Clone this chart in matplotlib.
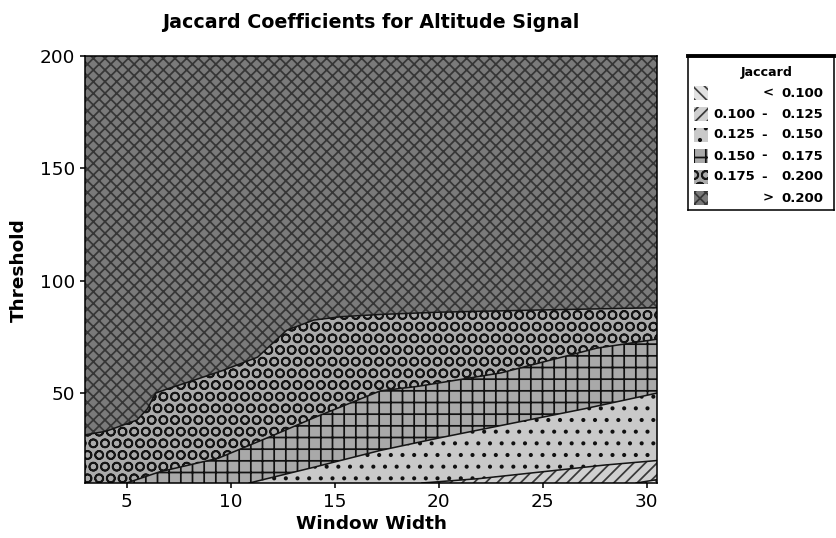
import numpy as np
import matplotlib
matplotlib.use("Agg")
import matplotlib.pyplot as plt
from matplotlib.patches import Rectangle

# threshold at which the Jaccard coefficient crosses each level, per window width
x_200 = [3, 4, 5.5, 6.0, 6.4, 7, 8, 9.6, 11.3, 12, 12.7, 14, 15.3, 17.2, 20, 25, 30.5]
y_200 = [31.4, 33, 38, 43, 50, 52, 55, 60, 66, 72, 78, 82.5, 84, 85, 86, 87, 88]
x_175 = [5, 6.6, 8, 9.4, 12, 14, 17.2, 19, 23, 27.6, 30.5]
y_175 = [10, 15, 18, 21, 31, 39, 51, 53, 59, 70, 74]
x_150 = [10.9, 14, 17.2, 20, 23.6, 27, 30.5]
y_150 = [10, 17, 24.5, 30, 36.7, 43, 50]
x_125 = [19.2, 22, 25, 28, 30.5]
y_125 = [10, 12, 15, 18, 20]
x_100 = [29.5, 30.5]
y_100 = [10, 11.5]

levels = [0.100, 0.125, 0.150, 0.175, 0.200]
x_ticks = [5, 10, 15, 20, 25, 30]
y_ticks = [50, 100, 150, 200]

# band styles, lowest band first: face, hatch colour, hatch
styles = [
    ("#e2e2e2", "#404040", "\\\\\\\\"),
    ("#d0d0d0", "#383838", "////"),
    ("#c9c9c9", "#111111", ".."),
    ("#a9a9a9", "#111111", "++"),
    ("#ababab", "#151515", "OO"),
    ("#7a7a7a", "#363636", "xxxx"),
]

DPI = 140
plt.rcParams["font.family"] = ["DejaVu Sans"]
plt.rcParams["hatch.linewidth"] = 0.9

fig = plt.figure(figsize=(836 / DPI, 538 / DPI), dpi=DPI)
ax = fig.add_axes([85 / 836, 1 - 483 / 538, 572 / 836, 427 / 538])
ymin, ymax = 10, 200


def band(x, lo, hi, style):
    face, hcol, hatch = style
    with plt.rc_context({"hatch.color": hcol}):
        ax.fill_between(x, lo, hi, facecolor=face, edgecolor=hcol,
                        hatch=hatch, linewidth=0)


band(x_200, y_200, ymax, styles[5])
band(x_200, ymin, y_200, styles[4])
band(x_175, ymin, y_175, styles[3])
band(x_150, ymin, y_150, styles[2])
band(x_125, ymin, y_125, styles[1])
band(x_100, ymin, y_100, styles[0])

for bx, by in [(x_200, y_200), (x_175, y_175), (x_150, y_150), (x_125, y_125), (x_100, y_100)]:
    ax.plot(bx, by, color="#151515", lw=0.8)

ax.set_xlim(3, 30.5)
ax.set_ylim(ymin, ymax)
ax.set_xticks(x_ticks)
ax.set_yticks(y_ticks)
ax.tick_params(labelsize=9.5, length=2.6, width=0.8, pad=2.5)
for s in ax.spines.values():
    s.set_linewidth(0.8)

ax.set_xlabel("Window Width", fontsize=9.5, fontweight="bold", labelpad=2)
fig.text(19 / 836, 1 - 270 / 538, "Threshold", rotation=90, ha="center", va="center",
         fontsize=9.5, fontweight="bold")
fig.text(371 / 836, 1 - 22 / 538, "Jaccard Coefficients for Altitude Signal",
         ha="center", va="center", fontsize=9.8, fontweight="bold")

# legend box, drawn in pixel units
lg = fig.add_axes([688 / 836, 1 - 210 / 538, 146 / 836, 154 / 538])
lg.set_xlim(0, 146)
lg.set_ylim(154, 0)
lg.set_xticks([])
lg.set_yticks([])
for s in lg.spines.values():
    s.set_linewidth(0.8)
lg.spines["top"].set_linewidth(2)
lg.text(79, 16, "Jaccard", ha="center", va="center", fontsize=6.5, fontweight="bold")

rows = [("", "<", f"{levels[0]:.3f}")]
rows += [(f"{a:.3f}", "-", f"{b:.3f}") for a, b in zip(levels[:-1], levels[1:])]
rows += [("", ">", f"{levels[-1]:.3f}")]
for i, (style, (lo, mid, hi)) in enumerate(zip(styles, rows)):
    yy = 37 + 21 * i
    face, hcol, hatch = style
    with plt.rc_context({"hatch.color": hcol}):
        lg.add_patch(Rectangle((6, yy - 7), 14, 14, facecolor=face, edgecolor=hcol,
                               hatch=hatch, linewidth=0))
    kw = dict(va="center", fontsize=6.8, fontweight="bold")
    if lo:
        lg.text(67, yy, lo, ha="right", **kw)
    lg.text(76 if lo else 80, yy, mid, ha="center", **kw)
    lg.text(135, yy, hi, ha="right", **kw)

fig.savefig("out.png", dpi=DPI)
